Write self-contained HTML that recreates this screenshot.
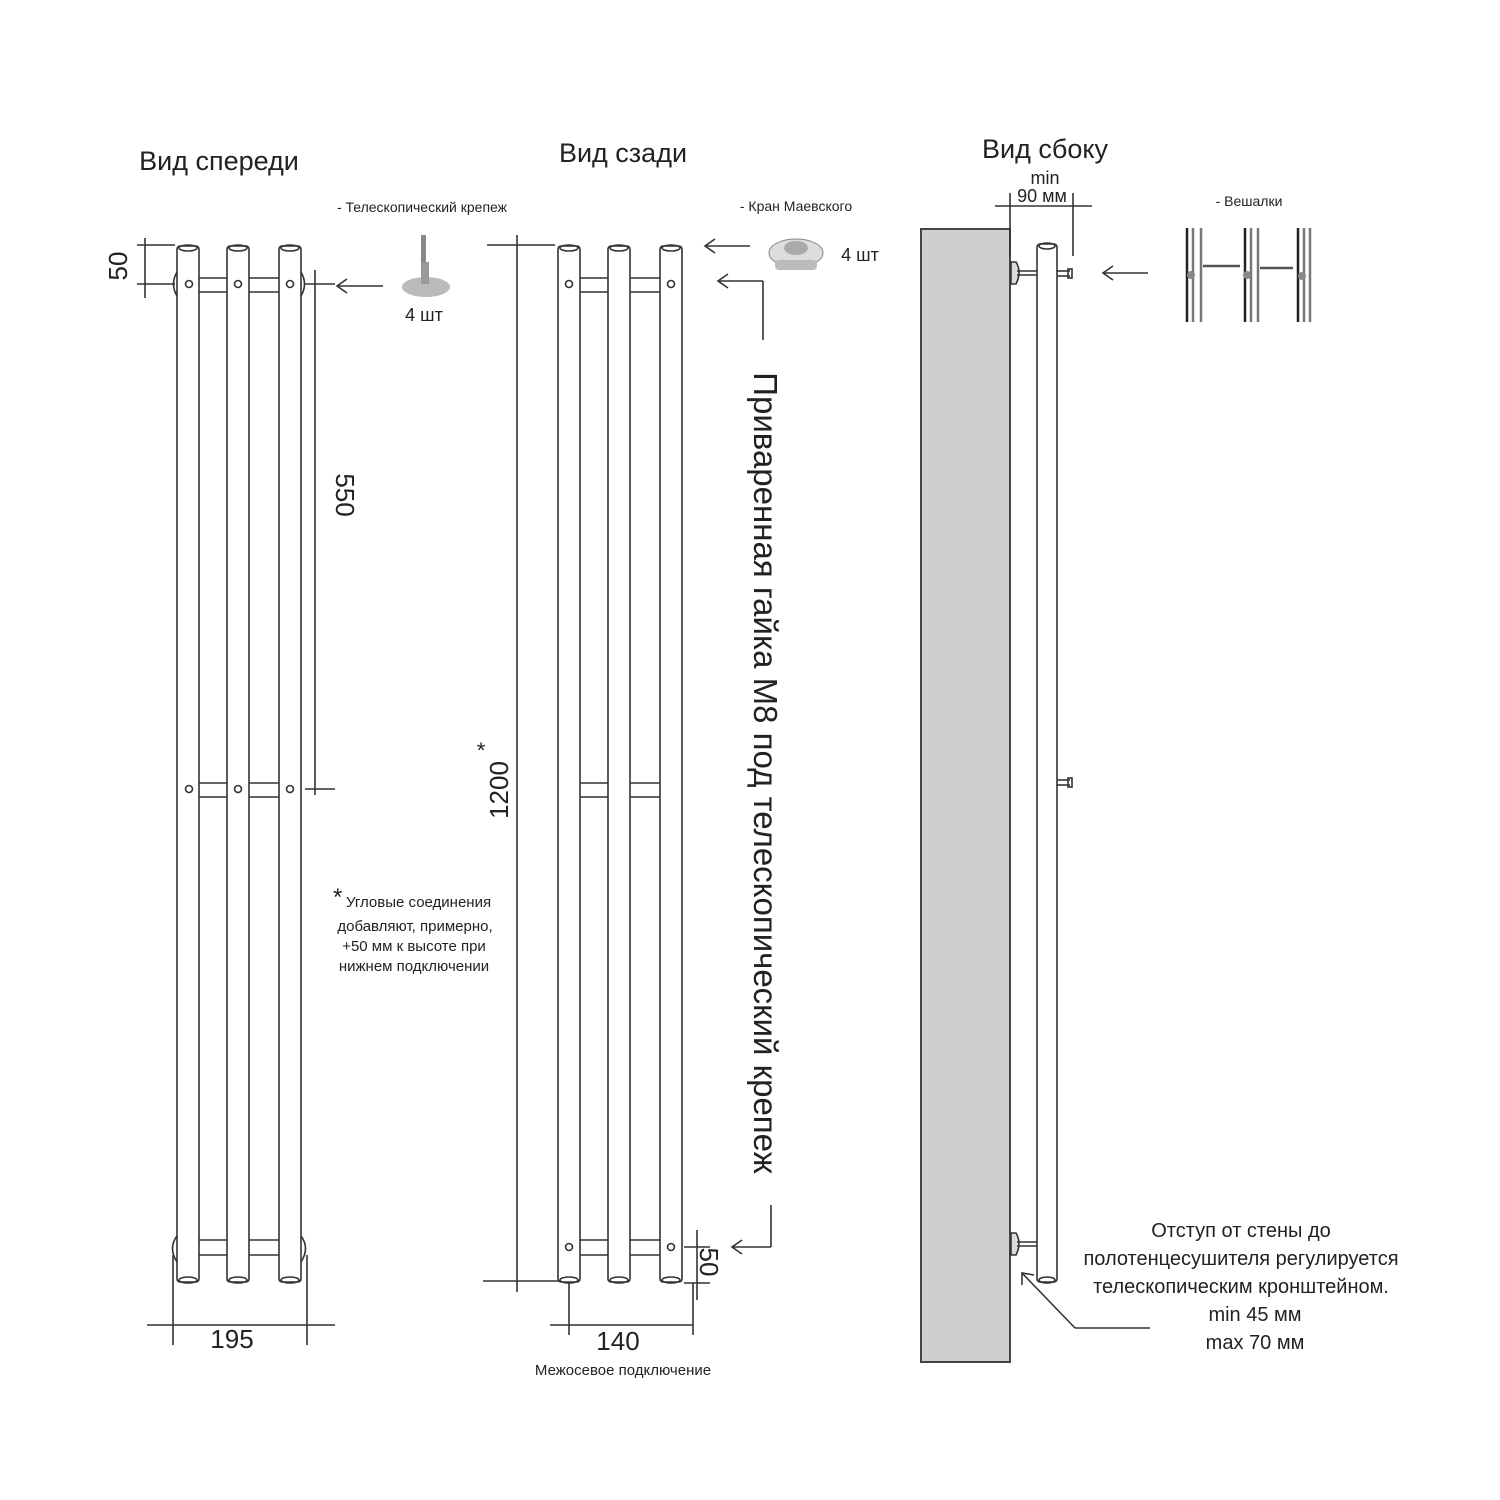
<!DOCTYPE html>
<html><head><meta charset="utf-8"><style>
html,body{margin:0;padding:0;background:#fff}
svg{display:block}
text{font-family:"Liberation Sans","DejaVu Sans",sans-serif;fill:#222}
</style></head><body>
<svg width="1500" height="1500" viewBox="0 0 1500 1500" xmlns="http://www.w3.org/2000/svg">
<g stroke="#333" stroke-width="1.6" fill="none">
<g fill="#fff">
<rect x="177" y="246" width="22" height="1036" rx="3"/>
<rect x="227" y="246" width="22" height="1036" rx="3"/>
<rect x="279" y="246" width="22" height="1036" rx="3"/>
</g>
<g>
<ellipse cx="188" cy="248" rx="9" ry="3"/><ellipse cx="238" cy="248" rx="9" ry="3"/><ellipse cx="290" cy="248" rx="9" ry="3"/>
<ellipse cx="188" cy="1280" rx="9" ry="3"/><ellipse cx="238" cy="1280" rx="9" ry="3"/><ellipse cx="290" cy="1280" rx="9" ry="3"/>
<line x1="199" y1="278" x2="227" y2="278"/><line x1="199" y1="292" x2="227" y2="292"/>
<line x1="249" y1="278" x2="279" y2="278"/><line x1="249" y1="292" x2="279" y2="292"/>
<line x1="199" y1="783" x2="227" y2="783"/><line x1="199" y1="797" x2="227" y2="797"/>
<line x1="249" y1="783" x2="279" y2="783"/><line x1="249" y1="797" x2="279" y2="797"/>
<line x1="199" y1="1240" x2="227" y2="1240"/><line x1="199" y1="1255" x2="227" y2="1255"/>
<line x1="249" y1="1240" x2="279" y2="1240"/><line x1="249" y1="1255" x2="279" y2="1255"/>
<circle cx="189" cy="284" r="3.5"/><circle cx="238" cy="284" r="3.5"/><circle cx="290" cy="284" r="3.5"/>
<circle cx="189" cy="789" r="3.5"/><circle cx="238" cy="789" r="3.5"/><circle cx="290" cy="789" r="3.5"/>
<path d="M177 272 Q170 284 177 296"/><path d="M301 272 Q308 284 301 296"/>
<path d="M177 1236 Q168 1248 177 1262"/><path d="M301 1236 Q310 1248 301 1262"/>
<line x1="137" y1="245" x2="175" y2="245"/><line x1="137" y1="284" x2="175" y2="284"/>
<line x1="145" y1="238" x2="145" y2="298"/>
<line x1="315" y1="270" x2="315" y2="795"/>
<line x1="305" y1="284" x2="335" y2="284"/><line x1="305" y1="789" x2="335" y2="789"/>
<line x1="337" y1="286" x2="383" y2="286"/><path d="M347 279 L337 286 L347 293"/>
<line x1="173" y1="1255" x2="173" y2="1345"/><line x1="307" y1="1255" x2="307" y2="1345"/>
<line x1="147" y1="1325" x2="335" y2="1325"/>
</g>
<g fill="#fff">
<rect x="558" y="246" width="22" height="1036" rx="3"/>
<rect x="608" y="246" width="22" height="1036" rx="3"/>
<rect x="660" y="246" width="22" height="1036" rx="3"/>
</g>
<g>
<ellipse cx="569" cy="248" rx="9" ry="3"/><ellipse cx="619" cy="248" rx="9" ry="3"/><ellipse cx="671" cy="248" rx="9" ry="3"/>
<ellipse cx="569" cy="1280" rx="9" ry="3"/><ellipse cx="619" cy="1280" rx="9" ry="3"/><ellipse cx="671" cy="1280" rx="9" ry="3"/>
<line x1="580" y1="278" x2="608" y2="278"/><line x1="580" y1="292" x2="608" y2="292"/>
<line x1="630" y1="278" x2="660" y2="278"/><line x1="630" y1="292" x2="660" y2="292"/>
<line x1="580" y1="783" x2="608" y2="783"/><line x1="580" y1="797" x2="608" y2="797"/>
<line x1="630" y1="783" x2="660" y2="783"/><line x1="630" y1="797" x2="660" y2="797"/>
<line x1="580" y1="1240" x2="608" y2="1240"/><line x1="580" y1="1255" x2="608" y2="1255"/>
<line x1="630" y1="1240" x2="660" y2="1240"/><line x1="630" y1="1255" x2="660" y2="1255"/>
<circle cx="569" cy="284" r="3.5"/><circle cx="671" cy="284" r="3.5"/>
<circle cx="569" cy="1247" r="3.5"/><circle cx="671" cy="1247" r="3.5"/>
<line x1="517" y1="235" x2="517" y2="1292"/>
<line x1="487" y1="245" x2="555" y2="245"/><line x1="483" y1="1281" x2="560" y2="1281"/>
<line x1="569" y1="1283" x2="569" y2="1335"/><line x1="693" y1="1283" x2="693" y2="1335"/>
<line x1="550" y1="1325" x2="693" y2="1325"/>
<line x1="684" y1="1247" x2="710" y2="1247"/><line x1="684" y1="1283" x2="710" y2="1283"/>
<line x1="697" y1="1230" x2="697" y2="1300"/>
<line x1="705" y1="246" x2="750" y2="246"/><path d="M715 239 L705 246 L715 253"/>
<line x1="718" y1="281" x2="763" y2="281"/><line x1="763" y1="281" x2="763" y2="340"/><path d="M728 274 L718 281 L728 288"/>
<line x1="771" y1="1205" x2="771" y2="1247"/><line x1="732" y1="1247" x2="771" y2="1247"/><path d="M742 1240 L732 1247 L742 1254"/>
</g>
<rect x="921" y="229" width="89" height="1133" fill="#cfcfcf" stroke="#444" stroke-width="2"/>
<rect x="1037" y="244" width="20" height="1038" rx="3" fill="#fff"/>
<ellipse cx="1047" cy="246" rx="8" ry="3"/><ellipse cx="1047" cy="1280" rx="8" ry="3"/>
<path d="M1011 262 h5 q6 10 0 22 h-5z" fill="#ddd"/><line x1="1017" y1="271" x2="1037" y2="271"/><line x1="1017" y1="275" x2="1037" y2="275"/>
<path d="M1011 1233 h5 q6 10 0 22 h-5z" fill="#ddd"/><line x1="1017" y1="1242" x2="1037" y2="1242"/><line x1="1017" y1="1246" x2="1037" y2="1246"/>
<line x1="1057" y1="271" x2="1070" y2="271"/><line x1="1057" y1="276" x2="1070" y2="276"/><rect x="1068" y="269" width="4" height="9"/>
<line x1="1057" y1="780" x2="1070" y2="780"/><line x1="1057" y1="785" x2="1070" y2="785"/><rect x="1068" y="778" width="4" height="9"/>
<line x1="995" y1="206" x2="1092" y2="206"/><line x1="1010" y1="193" x2="1010" y2="255"/><line x1="1073" y1="193" x2="1073" y2="256"/>
<line x1="1103" y1="273" x2="1148" y2="273"/><path d="M1113 266 L1103 273 L1113 280"/>
<line x1="1022" y1="1273" x2="1075" y2="1328"/><line x1="1075" y1="1328" x2="1150" y2="1328"/><path d="M1022 1285 L1022 1273 L1034 1275"/>
</g>
<g stroke-width="2.5" fill="none">
<g stroke="#222"><line x1="1187" y1="228" x2="1187" y2="322"/><line x1="1245" y1="228" x2="1245" y2="322"/><line x1="1298" y1="228" x2="1298" y2="322"/></g>
<g stroke="#777"><line x1="1193" y1="228" x2="1193" y2="322"/><line x1="1201" y1="228" x2="1201" y2="322"/><line x1="1251" y1="228" x2="1251" y2="322"/><line x1="1258" y1="228" x2="1258" y2="322"/><line x1="1304" y1="228" x2="1304" y2="322"/><line x1="1310" y1="228" x2="1310" y2="322"/></g>
<g stroke="#555"><line x1="1203" y1="266" x2="1240" y2="266"/><line x1="1260" y1="268" x2="1293" y2="268"/></g>
<g fill="#888" stroke="none"><circle cx="1191" cy="275" r="4"/><circle cx="1247" cy="275" r="4"/><circle cx="1302" cy="276" r="4"/></g>
</g>
<rect x="421" y="235" width="5" height="30" fill="#888"/>
<ellipse cx="426" cy="287" rx="24" ry="10" fill="#bbb"/>
<rect x="421" y="262" width="8" height="22" fill="#999"/>
<ellipse cx="796" cy="253" rx="27" ry="14" fill="#ddd" stroke="#888"/>
<ellipse cx="796" cy="248" rx="12" ry="7" fill="#aaa"/>
<rect x="775" y="260" width="42" height="10" rx="4" fill="#bbb"/>
<text x="219" y="170" font-size="27" text-anchor="middle">Вид спереди</text>
<text x="623" y="162" font-size="27" text-anchor="middle">Вид сзади</text>
<text x="1045" y="158" font-size="27" text-anchor="middle">Вид сбоку</text>
<text x="1045" y="184" font-size="18" text-anchor="middle">min</text>
<text x="1042" y="202" font-size="18" text-anchor="middle">90 мм</text>
<text x="422" y="212" font-size="14" text-anchor="middle">- Телескопический крепеж</text>
<text x="424" y="321" font-size="18" text-anchor="middle">4 шт</text>
<text x="796" y="211" font-size="14" text-anchor="middle">- Кран Маевского</text>
<text x="860" y="261" font-size="18" text-anchor="middle">4 шт</text>
<text x="1249" y="206" font-size="14" text-anchor="middle">- Вешалки</text>
<text transform="translate(127,266) rotate(-90)" font-size="26" text-anchor="middle">50</text>
<text transform="translate(336,495) rotate(90)" font-size="26" text-anchor="middle">550</text>
<text transform="translate(508,790) rotate(-90)" font-size="26" text-anchor="middle">1200</text>
<text x="481" y="758" font-size="22" text-anchor="middle">*</text>
<text transform="translate(700,1262) rotate(90)" font-size="26" text-anchor="middle">50</text>
<text transform="translate(754,773) rotate(90)" font-size="33" text-anchor="middle">Приваренная гайка М8 под телескопический крепеж</text>
<text x="232" y="1348" font-size="26" text-anchor="middle">195</text>
<text x="618" y="1350" font-size="26" text-anchor="middle">140</text>
<text x="623" y="1375" font-size="15" text-anchor="middle">Межосевое подключение</text>
<text x="333" y="905" font-size="24">*</text>
<text x="346" y="907" font-size="15">Угловые соединения</text>
<text x="415" y="931" font-size="15" text-anchor="middle">добавляют, примерно,</text>
<text x="414" y="951" font-size="15" text-anchor="middle">+50 мм к высоте при</text>
<text x="414" y="971" font-size="15" text-anchor="middle">нижнем подключении</text>
<g font-size="20" text-anchor="middle">
<text x="1241" y="1237">Отступ от стены до</text>
<text x="1241" y="1265">полотенцесушителя регулируется</text>
<text x="1241" y="1293">телескопическим кронштейном.</text>
<text x="1255" y="1321">min 45 мм</text>
<text x="1255" y="1349">max 70 мм</text>
</g>
</svg>
</body></html>
